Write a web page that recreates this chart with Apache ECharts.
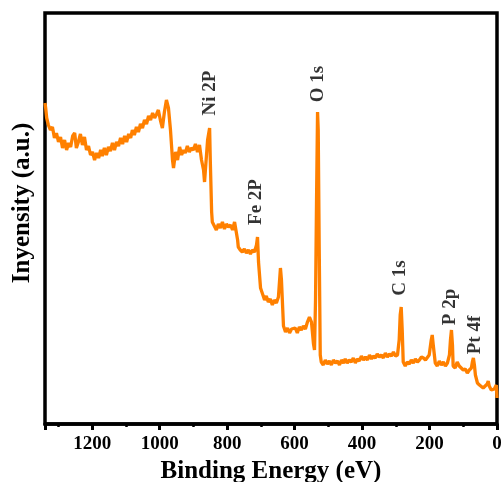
<!DOCTYPE html>
<html>
<head>
    <meta http-equiv="Content-Type" content="text/html; charset=UTF-8">
    <title>XPS</title>
    <script type="text/javascript" src="https://cdn.jsdelivr.net/npm/echarts@6.0.0/dist/echarts.min.js"></script>
    <style>
        html, body { margin: 0; padding: 0; background: #fff; }
        #main { width: 501px; height: 482px; }
    </style>
</head>
<body>
<div id="main"></div>
<script type="text/javascript">
    var bindingEnergy = [1340, 1338, 1335, 1330, 1324, 1318, 1312, 1306, 1300, 1294, 1288, 1282, 1276, 1270, 1264, 1258, 1252, 1247, 1241, 1235,
        1229, 1223, 1217, 1211, 1205, 1199, 1193, 1187, 1181, 1175, 1170, 1164, 1158, 1152, 1146, 1140, 1134, 1128, 1122, 1116,
        1110, 1104, 1098, 1092, 1086, 1081, 1075, 1069, 1063, 1057, 1051, 1045, 1039, 1033, 1027, 1021, 1015, 1009, 1004, 998,
        992, 986, 980, 974, 968, 962, 959, 953, 947, 941, 935, 929, 924, 918, 912, 906, 900, 894, 888, 882,
        876, 870, 867, 864, 858, 852, 850, 846, 844, 838, 832, 826, 820, 814, 808, 802, 796, 790, 784, 778,
        775, 769, 767, 761, 755, 749, 743, 737, 731, 725, 719, 713, 710, 707, 701, 695, 689, 684, 678, 672,
        666, 660, 654, 648, 642, 639, 633, 627, 621, 615, 609, 604, 598, 592, 586, 580, 574, 568, 562, 556,
        550, 544, 541, 538, 535, 532, 530, 527, 524, 521, 515, 509, 503, 497, 491, 485, 479, 473, 467, 461,
        455, 450, 444, 438, 432, 426, 420, 414, 408, 402, 396, 390, 384, 378, 372, 367, 361, 355, 349, 343,
        337, 331, 325, 319, 313, 307, 301, 295, 290, 287, 284, 281, 278, 272, 266, 260, 254, 248, 242, 236,
        230, 224, 218, 212, 207, 201, 195, 192, 189, 183, 177, 171, 165, 159, 153, 147, 141, 138, 135, 132,
        130, 124, 118, 115, 112, 106, 100, 94, 88, 82, 76, 73, 70, 67, 64, 58, 52, 47, 41, 35,
        29, 26, 23, 17, 14, 8, 2, 0];

    // intensity (a.u.)
    var intensity = [321, 316, 306, 299, 294, 297, 286, 291, 282, 287, 276, 284, 274, 281, 277, 288, 291, 276, 282, 290,
        279, 287, 274, 278, 269, 272, 264, 271, 266, 274, 268, 276, 269, 277, 273, 281, 274, 282, 278, 286,
        280, 288, 282, 290, 286, 294, 289, 297, 292, 300, 296, 304, 300, 308, 304, 311, 306, 310, 314, 304,
        296, 312, 324, 316, 294, 264, 256, 272, 264, 277, 269, 274, 271, 278, 272, 276, 274, 280, 272, 279,
        264, 254, 242, 256, 284, 296, 264, 212, 202, 198, 194, 200, 196, 202, 195, 200, 197, 199, 194, 202,
        200, 184, 177, 174, 172, 175, 171, 174, 170, 174, 172, 179, 187, 162, 136, 130, 124, 128, 122, 125,
        119, 124, 121, 127, 156, 144, 98, 92, 96, 91, 95, 93, 96, 91, 97, 94, 98, 95, 102, 107,
        102, 80, 74, 124, 224, 312, 294, 174, 69, 62, 59, 64, 60, 63, 59, 64, 61, 63, 59, 64,
        61, 65, 61, 64, 62, 66, 61, 65, 63, 68, 64, 67, 64, 69, 65, 68, 66, 70, 67, 69,
        66, 71, 67, 70, 68, 72, 68, 69, 84, 109, 117, 94, 62, 58, 62, 60, 64, 61, 65, 62,
        64, 67, 66, 64, 62, 69, 84, 89, 79, 61, 58, 63, 59, 62, 58, 61, 69, 84, 94, 79,
        58, 56, 62, 64, 58, 56, 54, 55, 51, 54, 56, 62, 66, 59, 49, 41, 39, 37, 36, 38,
        40, 43, 38, 34, 32, 35, 39, 26];

    // peak labels
    var peakNames = ['Ni 2P', 'Fe 2P', 'O 1s', 'C 1s', 'P 2p', 'Pt 4f'];
    var peakEnergy = [852, 713, 529, 287, 138, 64];
    var peakLabelHeight = [331, 222, 340, 146, 117, 89];

    var xTicks = [0, 200, 400, 600, 800, 1000, 1200];

    var lineData = [];
    for (var i = 0; i < bindingEnergy.length; i++) {
        lineData.push([bindingEnergy[i], intensity[i]]);
    }
    var labelData = [];
    for (var j = 0; j < peakNames.length; j++) {
        labelData.push({name: peakNames[j], value: [peakEnergy[j], peakLabelHeight[j]]});
    }

    var serif = "'Liberation Serif', 'DejaVu Serif', serif";
    var chart = echarts.init(document.getElementById('main'), null, {renderer: 'canvas'});
    var option = {
        animation: false,
        grid: {
            left: 45, right: 4, top: 13, bottom: 58,
            containLabel: false,
            outerBoundsMode: 'none',
            show: true, borderColor: '#000', borderWidth: 3.5, backgroundColor: 'transparent'
        },
        xAxis: {
            type: 'value',
            inverse: true,
            min: 0,
            max: 1340,
            interval: 200,
            name: 'Binding Energy (eV)',
            nameLocation: 'middle',
            nameGap: 28,
            nameTextStyle: {fontFamily: serif, fontWeight: 'bold', fontSize: 25, color: '#000'},
            axisLine: {lineStyle: {color: '#000', width: 3.5}},
            axisTick: {show: true, inside: false, length: 6, lineStyle: {color: '#000', width: 3}},
            minorTick: {show: true, splitNumber: 2, length: 3, lineStyle: {color: '#000', width: 2.5}},
            axisLabel: {
                margin: 11, fontFamily: serif, fontWeight: 'bold', fontSize: 19, color: '#000',
                showMinLabel: true, showMaxLabel: true,
                formatter: function (v) { return xTicks.indexOf(v) >= 0 ? String(v) : ''; }
            },
            splitLine: {show: false}
        },
        yAxis: {
            type: 'value',
            min: 0,
            max: 411,
            axisLine: {show: false},
            axisTick: {show: false},
            axisLabel: {show: false},
            splitLine: {show: false}
        },
        graphic: [{
            type: 'text',
            x: 23,
            y: 203,
            rotation: Math.PI / 2,
            style: {
                text: 'Inyensity (a.u.)',
                fontFamily: serif, fontWeight: 'bold', fontSize: 25, fill: '#000',
                align: 'center', verticalAlign: 'middle'
            }
        }],
        series: [{
            type: 'line',
            data: lineData,
            showSymbol: false,
            symbol: 'none',
            lineStyle: {color: '#FF8000', width: 3.3},
            z: 2
        }, {
            type: 'scatter',
            data: labelData,
            symbolSize: 0,
            silent: true,
            label: {
                show: true,
                position: 'inside',
                rotate: 90,
                formatter: '{b}',
                fontFamily: serif,
                fontWeight: 'bold',
                fontSize: 19,
                color: '#000'
            },
            z: 3
        }]
    };
    chart.setOption(option);
</script>
</body>
</html>
